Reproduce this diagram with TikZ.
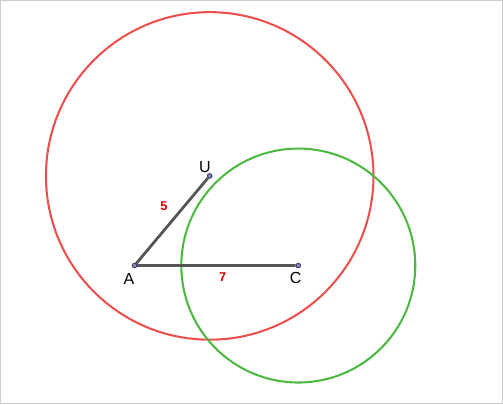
\documentclass[tikz,border=0pt]{standalone}
\usepackage{fontspec}
\setmainfont{Liberation Sans}
\usepackage{tikz}
\usetikzlibrary{calc}
\definecolor{rim}{RGB}{236,80,76}
\definecolor{leaf}{RGB}{76,184,66}
\definecolor{seg}{RGB}{85,85,85}
\definecolor{dotc}{RGB}{60,60,120}
\begin{document}
\begin{tikzpicture}[scale=1,
	pt/.style={draw=dotc,fill=dotc!60,circle,inner sep=0pt,minimum size=5.5pt,line width=0.9pt},
	lab/.style={font=\fontsize{19.5}{21}\selectfont},
	num/.style={font=\fontsize{15.5}{17}\selectfont\bfseries,text=red!85!black}]
	%frame and bounding box
	\useasboundingbox (-5.75,-5.92) rectangle (15.75,11.35);
	\draw[gray!40,line width=1.2pt] (-5.71,-5.88) rectangle (15.71,11.31);
	%the three points
	\node[pt] (A) at (0,0){};\node[pt] (C) at (7,0){};\node[pt] (U) at (50:5){};
	%% circles through the lengths
	\draw[rim,line width=2.5pt] (U) circle (7);
	\draw[leaf,line width=2.5pt] (C) circle (5);
	%% the two segments
	\draw[seg,line width=3.4pt] (U) -- (A) -- (C);
	\node[pt] at (A){};\node[pt] at (C){};\node[pt] at (U){};
	%% labels
	\node[lab] (lA) at (-0.24,-0.56){A};
	\node[lab] (lU) at (3.01,4.23){U};
	\node[lab] (lC) at (6.89,-0.55){C};
	\node[num] (n5) at (1.26,2.52){5};
	\node[num] (n7) at (3.77,-0.48){7};
	\end{tikzpicture}
\end{document}
